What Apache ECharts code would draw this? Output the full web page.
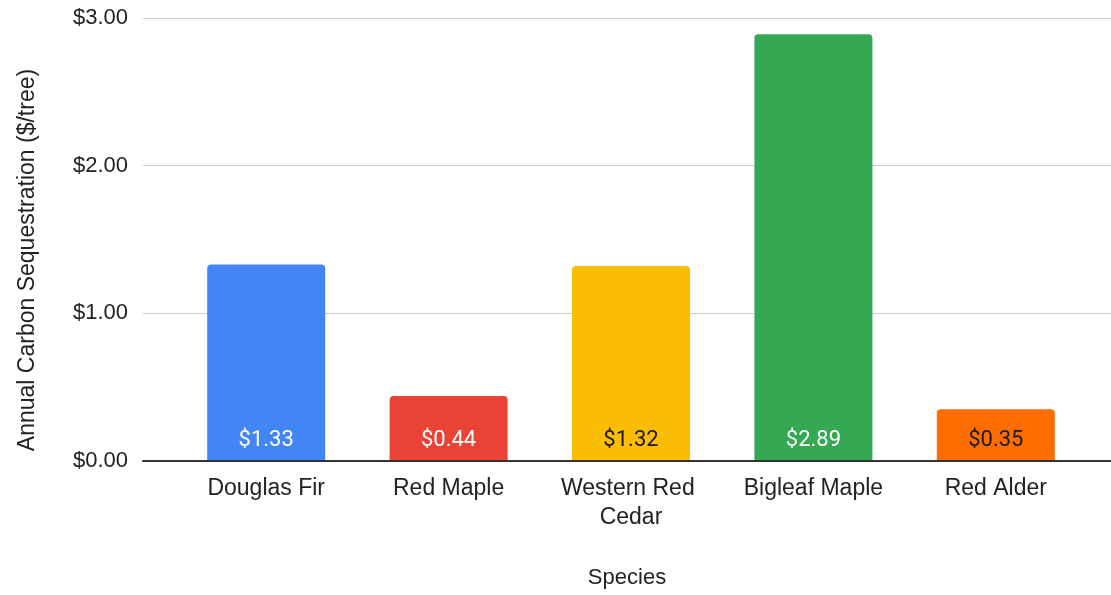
<!DOCTYPE html>
<html>
<head>
<meta charset="utf-8">
<script src="https://cdn.jsdelivr.net/npm/echarts@6/dist/echarts.min.js"></script>
<style>
  html, body { margin: 0; padding: 0; background: #fff; }
  #chart { width: 1111px; height: 595px; }
</style>
</head>
<body>
<div id="chart"></div>
<script>
// Annual carbon sequestration value per tree, by species
const species = ['Douglas Fir', 'Red Maple', 'Western Red Cedar', 'Bigleaf Maple', 'Red Alder'];
const values = [1.33, 0.44, 1.32, 2.89, 0.35];
const barColors = ['#4285F4', '#EA4335', '#FBBC04', '#34A853', '#FF6D01'];
const labelColors = ['#ffffff', '#ffffff', '#1a1a1a', '#ffffff', '#1a1a1a'];
const yTicks = [0, 1, 2, 3];

const money = v => '$' + Number(v).toFixed(2);
const SANS = '"Liberation Sans", Arial, sans-serif';
const ROBOTO = 'Roboto, "Liberation Sans", sans-serif';

const chart = echarts.init(document.getElementById('chart'), null, { renderer: 'canvas' });

chart.setOption({
  backgroundColor: '#ffffff',
  textStyle: { fontFamily: SANS },
  animation: false,
  grid: [
    // frame: gridlines, value axis and baseline
    { left: 143, right: 0, top: 18, bottom: 134, containLabel: false, outerBoundsMode: 'none' },
    // bars
    { left: 175, right: 24, top: 18, bottom: 134, containLabel: false, outerBoundsMode: 'none' }
  ],
  xAxis: [
    {
      gridIndex: 0, type: 'category', data: [''], z: 3,
      axisLine: { show: true, lineStyle: { color: '#333333', width: 2 } },
      axisTick: { show: false }, axisLabel: { show: false },
      name: 'Species', nameLocation: 'middle', nameGap: 106,
      nameTextStyle: { fontSize: 22, color: '#222222', fontFamily: SANS }
    },
    {
      gridIndex: 1, type: 'category', data: species,
      axisLine: { show: false }, axisTick: { show: false },
      axisLabel: {
        interval: 0, fontSize: 23, color: '#222222', margin: 13, lineHeight: 29,
        width: 170, overflow: 'break', fontFamily: SANS
      }
    }
  ],
  yAxis: [
    {
      gridIndex: 0, type: 'value', z: 0,
      min: yTicks[0], max: yTicks[yTicks.length - 1], interval: 1,
      axisLine: { show: false }, axisTick: { show: false },
      splitLine: { lineStyle: { color: '#cccccc', width: 1 } },
      axisLabel: {
        formatter: money, fontSize: 22, color: '#222222', margin: 15,
        padding: [5, 0, 0, 0], fontFamily: SANS
      }
    },
    {
      gridIndex: 1, type: 'value',
      min: yTicks[0], max: yTicks[yTicks.length - 1], interval: 1,
      show: false
    }
  ],
  graphic: [{
    type: 'text',
    x: 28, y: 260,
    rotation: Math.PI / 2,
    style: {
      text: 'Annual Carbon Sequestration ($/tree)',
      font: '23px ' + SANS,
      fill: '#222222',
      align: 'center',
      verticalAlign: 'middle'
    }
  }],
  series: [{
    type: 'bar',
    xAxisIndex: 1, yAxisIndex: 1,
    barWidth: 118,
    z: 2,
    data: values.map((v, i) => ({
      value: v,
      itemStyle: { color: barColors[i], borderRadius: [4, 4, 0, 0] },
      label: { color: labelColors[i] }
    })),
    label: {
      show: true, position: 'insideBottom', distance: 10,
      fontSize: 22, fontFamily: ROBOTO,
      formatter: p => money(p.value)
    }
  }]
});
</script>
</body>
</html>
